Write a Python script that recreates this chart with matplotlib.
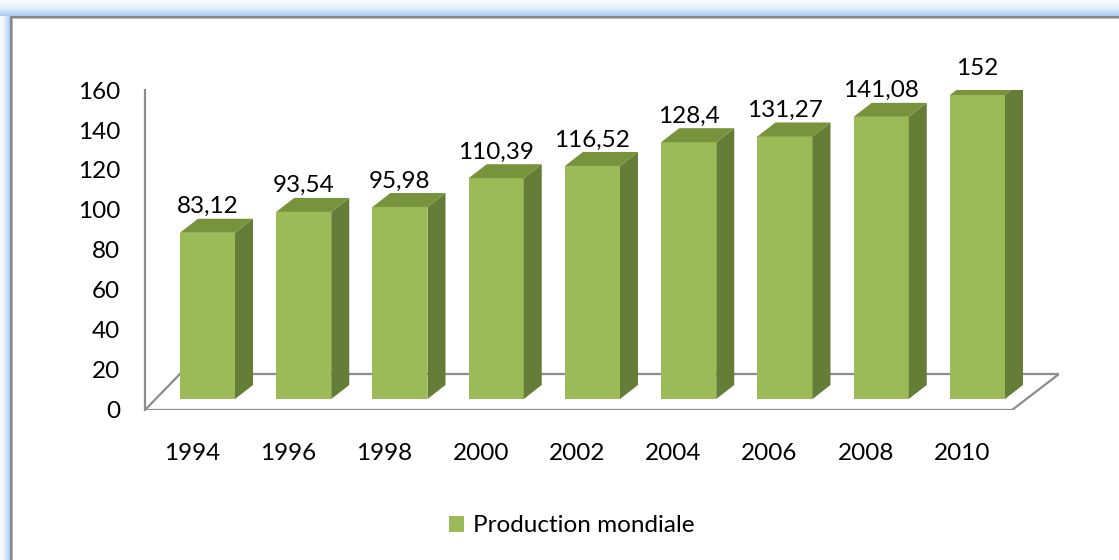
#!/usr/bin/env python3
import numpy as np
import matplotlib
matplotlib.use("Agg")
import matplotlib.pyplot as plt
from matplotlib.patches import Polygon, Patch

years = ['1994', '1996', '1998', '2000', '2002', '2004', '2006', '2008', '2010']
production = [83.12, 93.54, 95.98, 110.39, 116.52, 128.4, 131.27, 141.08, 152]
yticks = [0, 20, 40, 60, 80, 100, 120, 140, 160]

front_col = '#9BBB59'
top_col = '#77933C'
side_col = '#657D37'
grid_col = '#8C8C8C'

plt.rcParams['font.family'] = ['Lato', 'DejaVu Sans']
fs = 17.5

W, H = 1119, 560
fig = plt.figure(figsize=(W / 100, H / 100), dpi=100)

# frame with blue glow (decoration)
bg = fig.add_axes([0, 0, 1, 1], zorder=-5)
img = np.ones((H, W, 3))
glow = np.array([0.67, 0.80, 0.95])
light = np.array([0.97, 0.98, 1.0])
for r in range(16):
    t = (r / 15) ** 1.8
    img[r, :, :] = (1 - t) * light + t * glow
for c in range(10):
    t = (c / 9) ** 1.8
    img[16:, c, :] = (1 - t) * light + t * glow
img[16:18, 10:, :] = 0.53
img[18, 12:, :] = 0.72
img[16:, 10:12, :] = 0.53
img[18:, 12, :] = 0.72
bg.imshow(img, extent=(0, W, H, 0), aspect='auto', interpolation='nearest')
bg.set_xlim(0, W)
bg.set_ylim(H, 0)
bg.axis('off')

ax = fig.add_axes([145 / W, 150 / H, 914 / W, 320 / H])
ax.patch.set_alpha(0)
ax.set_xlim(-0.488, 9.008)
ax.set_ylim(0, 160)

# floor outline
floor = Polygon([(-0.488, 0), (8.52, 0), (9.008, 18), (-0.125, 18)],
                closed=True, fill=False, edgecolor=grid_col, lw=1.6, zorder=1)
ax.add_patch(floor)

# 3d bars
off_x, off_y = 0.161, 5.5
half = 0.286
dx, dy = 0.187, 7.0
for i, v in enumerate(production):
    xl = i + off_x - half
    xr = i + off_x + half
    y0 = off_y
    y1 = v + off_y
    ax.add_patch(Polygon([(xl, y0), (xr, y0), (xr, y1), (xl, y1)],
                         facecolor=front_col, edgecolor='none', zorder=3))
    ax.add_patch(Polygon([(xr, y0), (xr + dx, y0 + dy), (xr + dx, y1 + dy), (xr, y1)],
                         facecolor=side_col, edgecolor='none', zorder=3))
    ax.add_patch(Polygon([(xl, y1), (xr, y1), (xr + dx, y1 + dy), (xl + dx, y1 + dy)],
                         facecolor=top_col, edgecolor='none', zorder=3))
    lab = f"{v:g}".replace('.', ',')
    ax.text(i + off_x, y1 + dy + 0.8, lab, ha='center', va='bottom',
            fontsize=fs, color='black', zorder=4, clip_on=False)

for s in ['top', 'right', 'bottom']:
    ax.spines[s].set_visible(False)
ax.spines['left'].set_color(grid_col)
ax.spines['left'].set_linewidth(1.6)

ax.set_yticks(yticks)
ax.set_yticklabels([str(t) for t in yticks], fontsize=fs)
ax.tick_params(axis='y', length=0, pad=18)
ax.set_xticks(range(len(years)))
ax.set_xticklabels(years, fontsize=fs)
ax.tick_params(axis='x', length=0, pad=24)

fig.legend(handles=[Patch(facecolor=front_col, edgecolor='none', label='Production mondiale')],
           loc='center', bbox_to_anchor=(572 / W, 1 - 526 / H), frameon=False,
           fontsize=fs, handlelength=0.6, handleheight=0.6, handletextpad=0.4)

plt.savefig('out.png', dpi=100)
